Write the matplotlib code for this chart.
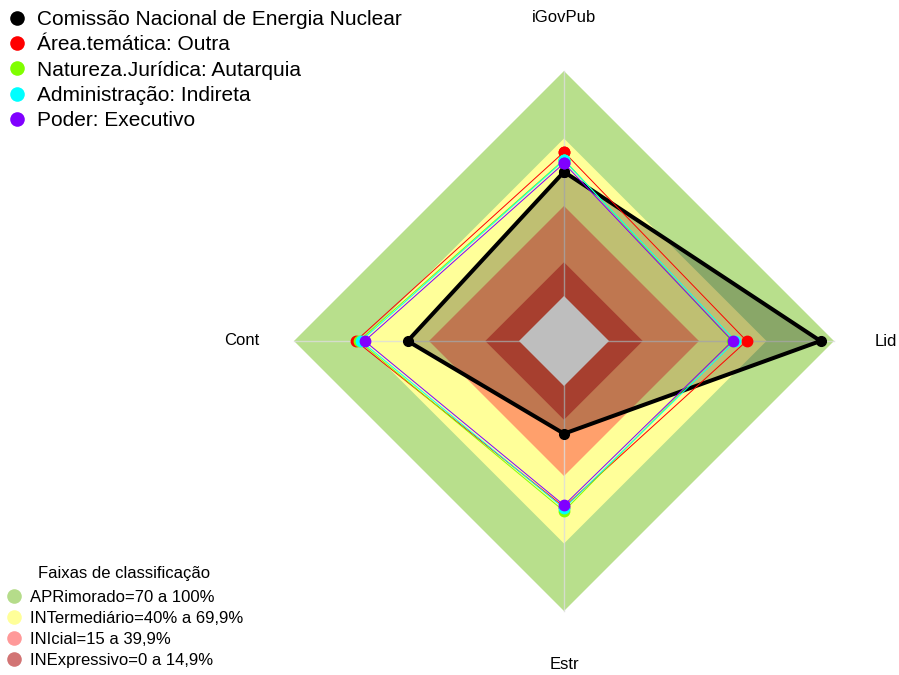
import numpy as np
import matplotlib
matplotlib.use('Agg')
import matplotlib.pyplot as plt
from matplotlib.lines import Line2D

plt.rcParams['font.family'] = ['Liberation Sans', 'DejaVu Sans']

# eixos do radar (topo, direita, baixo, esquerda)
eixos = ['iGovPub', 'Lid', 'Estr', 'Cont']
angulos = np.deg2rad([90, 0, -90, 180])

# valores (0 a 1)
cnen = [0.552, 0.940, 0.212, 0.495]
area_outra = [0.640, 0.612, 0.538, 0.725]
autarquia = [0.606, 0.545, 0.556, 0.712]
indireta = [0.603, 0.562, 0.544, 0.702]
executivo = [0.590, 0.549, 0.530, 0.686]
series = [cnen, area_outra, autarquia, indireta, executivo]
series_nomes = ['Comissão Nacional de Energia Nuclear', 'Área.temática: Outra',
                'Natureza.Jurídica: Autarquia', 'Administração: Indireta',
                'Poder: Executivo']
series_cores = ['black', '#FF0000', '#80FF00', '#00FFFF', '#8000FF']

# faixas de classificacao
faixas_nomes = ['APRimorado=70 a 100%', 'INTermediário=40% a 69,9%',
                'INIcial=15 a 39,9%', 'INExpressivo=0 a 14,9%']
faixas_limites = [1.0, 0.70, 0.40, 0.15]
faixas_cores = ['#B8DF8C', '#FFFF99', '#FFA06C', '#E05540']
faixas_cores_leg = ['#B5DC8A', '#FFFF99', '#FF9999', '#D27474']


def raio(v):
    # como no fmsb: o zero fica a 1/6 do raio
    return 1 / 6 + 5 / 6 * np.asarray(v, dtype=float)


def xy(v):
    r = raio(v)
    return r * np.cos(angulos), r * np.sin(angulos)


fig = plt.figure(figsize=(8.99, 6.75), dpi=100)
ax = fig.add_axes([0, 0, 1, 1])
R, cx, cy = 270.0, 564.0, 341.0
ax.set_xlim(-cx / R, (899 - cx) / R)
ax.set_ylim(-(675 - cy) / R, cy / R)
ax.axis('off')

# faixas de fundo
for lim, cor in zip(faixas_limites, faixas_cores):
    x, y = xy([lim] * 4)
    ax.fill(x, y, color=cor, lw=0, zorder=1)

# linhas dos eixos
for a in angulos:
    ax.plot([0, np.cos(a)], [0, np.sin(a)], color='#DDDDDD', lw=1, alpha=0.8, zorder=2)

# orgao avaliado (preenchido)
x, y = xy(cnen)
ax.fill(x, y, color='black', alpha=0.25, lw=0, zorder=3)
x0, y0 = xy([0] * 4)
ax.fill(x0, y0, color='#BEBEBE', lw=0, zorder=4)
ax.plot(np.append(x, x[0]), np.append(y, y[0]), color='black', lw=2.9,
        marker='o', ms=7, zorder=5)

# grupos de comparacao
for vals, cor in zip(series[1:], series_cores[1:]):
    x, y = xy(vals)
    ax.plot(np.append(x, x[0]), np.append(y, y[0]), color=cor, lw=0.7,
            marker='o', ms=7.5, mec=cor, zorder=6)

# rotulos dos eixos
for nome, a in zip(eixos, angulos):
    ax.text(1.192 * np.cos(a), 1.197 * np.sin(a), nome, ha='center', va='center',
            fontsize=12)

h1 = [Line2D([], [], ls='none', marker='o', ms=10.5, color=c, mew=0) for c in series_cores]
leg1 = ax.legend(h1, series_nomes, loc='upper left', bbox_to_anchor=(0.007, 0.985),
                 bbox_transform=fig.transFigure, frameon=False, fontsize=15,
                 handlelength=1.0, handletextpad=0.45, labelspacing=0.3,
                 borderpad=0, borderaxespad=0)
ax.add_artist(leg1)

h2 = [Line2D([], [], ls='none', marker='o', ms=10.5, color=c, mew=0) for c in faixas_cores_leg]
leg2 = ax.legend(h2, faixas_nomes, loc='lower left', bbox_to_anchor=(0.006, 0.010),
                 bbox_transform=fig.transFigure, frameon=False, fontsize=12,
                 title='Faixas de classificação', title_fontsize=12,
                 handlelength=1.0, handletextpad=0.45, labelspacing=0.36,
                 borderpad=0, borderaxespad=0)
leg2._legend_box.sep = 7

fig.savefig('out.png', dpi=100)
